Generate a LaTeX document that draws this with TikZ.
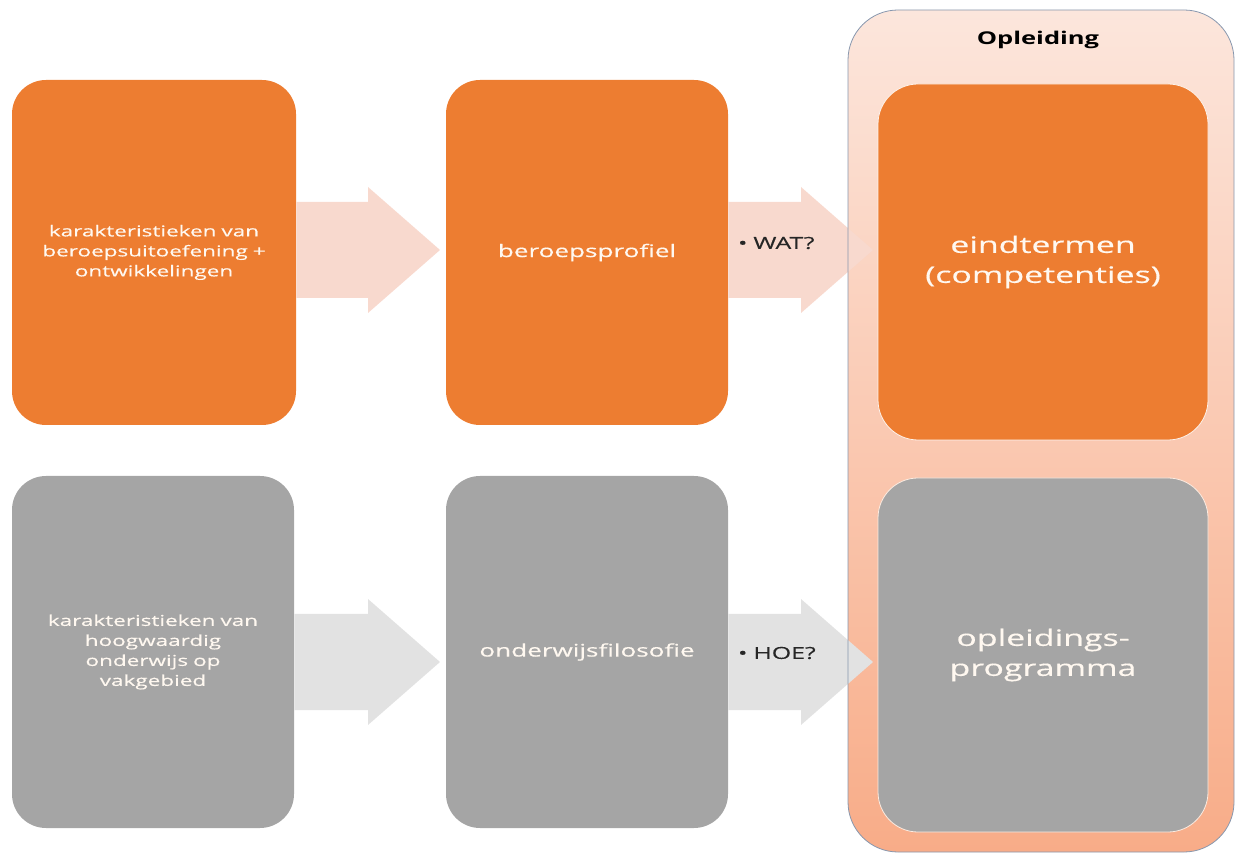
\documentclass[tikz,border=0pt]{standalone}
\usepackage{fontspec}
\usepackage{xcolor}
\usepackage{tikz}
\usetikzlibrary{positioning}
\usetikzlibrary{calc}
\newfontfamily\boxfont{Open Sans}[FakeStretch=1.5,FakeBold=0.4]
\newfontfamily\titelfont{Open Sans Bold}[FakeStretch=1.45]
\definecolor{oranje}{HTML}{ED7D31}
\definecolor{grijs}{HTML}{A5A5A5}
\definecolor{pijlroze}{HTML}{F8D9CE}
\definecolor{pijlgrijs}{HTML}{E2E2E2}
\definecolor{kaderboven}{HTML}{FCE6DC}
\definecolor{kaderonder}{HTML}{F8AC88}
\definecolor{kaderrand}{HTML}{8797AE}
\definecolor{tekstwit}{HTML}{FFF8F0}
\tikzset{blok/.style = {rounded corners=17pt,text=tekstwit,align=center,font=\boxfont}}
\newcommand{\blokpijl}[3]{%
  \fill[#1] ($(#2)+(0,-48)$) -- ($(#3)+(-72,-48)$) -- ($(#3)+(-72,-63)$) -- (#3)
    -- ($(#3)+(-72,63)$) -- ($(#3)+(-72,48)$) -- ($(#2)+(0,48)$) -- cycle;}

\begin{document}
\begin{tikzpicture}[x=0.5pt,y=-0.5pt,
    oranjeblok/.style={blok,fill=oranje},
    grijsblok/.style={blok,fill=grijs},
    klein/.style={font=\boxfont\fontsize{7.5}{10}\selectfont},
    middel/.style={font=\boxfont\fontsize{8.7}{12}\selectfont},
    groot/.style={font=\boxfont\fontsize{11.3}{15}\selectfont},
    vraag/.style={font=\boxfont\fontsize{8.3}{10}\selectfont,text=black!85,anchor=west}]
    \useasboundingbox (0,0) rectangle (1236,854);

    % kader opleiding
    \shade[top color=kaderboven,bottom color=kaderonder,rounded corners=25pt]
        (848,10) rectangle (1234,852);
    \node[font=\titelfont\fontsize{8.8}{11}\selectfont] (opl) at (1038,40) {Opleiding};

    \node[oranjeblok,klein,minimum width=142pt,minimum height=172.5pt,text width=130pt] (kar1) at (154,252.5)
        {karakteristieken van\\beroepsuitoefening +\\ontwikkelingen};
    \node[oranjeblok,middel,minimum width=141pt,minimum height=172.5pt,text width=130pt] (prof) at (587,252.5)
        {beroepsprofiel};
    \node[grijsblok,klein,minimum width=141pt,minimum height=176pt,text width=130pt] (kar2) at (153,652)
        {karakteristieken van\\hoogwaardig\\onderwijs op\\vakgebied};
    \node[grijsblok,middel,minimum width=141pt,minimum height=176pt,text width=130pt] (filo) at (587,652)
        {onderwijsfilosofie};

    \coordinate (p1) at (440,250);
    \coordinate (p2) at (873,250);
    \coordinate (p3) at (440,662);
    \coordinate (p4) at (873,662);
    \blokpijl{pijlroze}{kar1.east |- p1}{p1}
    \blokpijl{pijlroze}{prof.east |- p2}{p2}
    \blokpijl{pijlgrijs}{kar2.east |- p3}{p3}
    \blokpijl{pijlgrijs}{filo.east |- p4}{p4}

    \draw[kaderrand,thin,rounded corners=25pt] (848,10) rectangle (1234,852);

    \node[oranjeblok,groot,draw=white!90!oranje,thin,rounded corners=20pt,minimum width=165pt,minimum height=178pt,text width=155pt] (eind) at (1043,262)
        {eindtermen\\(competenties)};
    \node[grijsblok,groot,draw=white!85!oranje,thin,rounded corners=20pt,minimum width=165pt,minimum height=177pt,text width=155pt] (prog) at (1043,655)
        {opleidings-\\programma};

    \node[vraag] (wat) at (731,243) {\textbullet\hspace{3pt}WAT?};
    \node[vraag] (hoe) at (731,653) {\textbullet\hspace{3pt}HOE?};
\end{tikzpicture}
\end{document}
